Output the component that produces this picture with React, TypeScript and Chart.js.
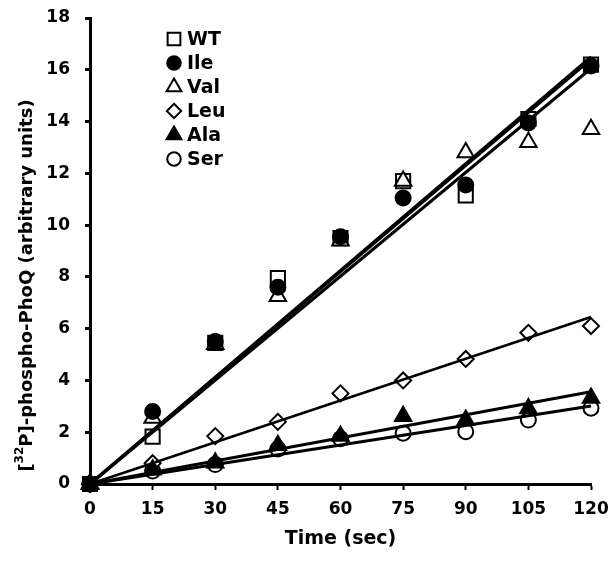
import React, { useEffect, useRef } from 'react';
import { Chart, registerables } from 'chart.js';

Chart.register(...registerables);

const timeSec = [0, 15, 30, 45, 60, 75, 90, 105, 120];
const wtValues = [0, 1.83, 5.45, 7.95, 9.5, 11.7, 11.15, 14.1, 16.2];
const ileValues = [0, 2.8, 5.5, 7.6, 9.55, 11.05, 11.55, 13.94, 16.15];
const valValues = [0, 2.55, 5.4, 7.25, 9.4, 11.7, 12.8, 13.2, 13.7];
const leuValues = [0, 0.8, 1.85, 2.4, 3.5, 4.0, 4.83, 5.84, 6.1];
const alaValues = [0, 0.55, 0.82, 1.5, 1.85, 2.62, 2.47, 2.92, 3.32];
const serValues = [0, 0.5, 0.75, 1.35, 1.75, 1.96, 2.02, 2.47, 2.93];

const fitTimes = [0, 120];
const wtFit = [0, 16.05];
const ileFit = [0, 16.4];
const valFit = [0, 16.5];
const leuFit = [0, 6.45];
const alaFit = [0, 3.56];
const serFit = [0, 3.01];

const seriesNames = ['WT', 'Ile', 'Val', 'Leu', 'Ala', 'Ser'];
const xTickStep = 15;
const yTickStep = 2;
const xTitle = 'Time (sec)';
const yTitleParts = ['[', '32', 'P]-phospho-PhoQ (arbitrary units)'];

const FONT = "'DejaVu Sans', Verdana, sans-serif";

type Marker = { style: string; radius: number; fill: string };
const markers: Marker[] = [
  { style: 'rect', radius: 10, fill: '#ffffff' },
  { style: 'circle', radius: 7.5, fill: '#000000' },
  { style: 'triangle', radius: 9.5, fill: '#ffffff' },
  { style: 'rectRot', radius: 8, fill: '#ffffff' },
  { style: 'triangle', radius: 9.5, fill: '#000000' },
  { style: 'circle', radius: 7.5, fill: '#ffffff' },
];
const markerOrder = [6, 1, 3, 4, 2, 5];
const fitWidths = [3, 3, 3, 2.5, 3, 3];

const toXY = (xs: number[], ys: number[]) => ys.map((y, i) => ({ x: xs[i], y }));

function drawMarker(ctx: CanvasRenderingContext2D, m: Marker, x: number, y: number) {
  ctx.save();
  ctx.fillStyle = m.fill;
  ctx.strokeStyle = '#000';
  ctx.lineWidth = 2;
  ctx.beginPath();
  const r = m.radius;
  if (m.style === 'rect') {
    const s = r * Math.SQRT1_2;
    ctx.rect(x - s, y - s, 2 * s, 2 * s);
  } else if (m.style === 'circle') {
    ctx.arc(x, y, r, 0, Math.PI * 2);
  } else if (m.style === 'triangle') {
    ctx.moveTo(x, y - r);
    ctx.lineTo(x + r * Math.sin(Math.PI / 3), y + r * 0.5);
    ctx.lineTo(x - r * Math.sin(Math.PI / 3), y + r * 0.5);
    ctx.closePath();
  } else {
    ctx.moveTo(x, y - r);
    ctx.lineTo(x + r, y);
    ctx.lineTo(x, y + r);
    ctx.lineTo(x - r, y);
    ctx.closePath();
  }
  ctx.fill();
  ctx.stroke();
  ctx.restore();
}

const insideLegend = {
  id: 'insideLegend',
  afterDraw(chart: any) {
    const { ctx, chartArea } = chart;
    const x0 = chartArea.left + 84;
    const y0 = chartArea.top + 21;
    ctx.save();
    ctx.font = `bold 19px ${FONT}`;
    ctx.fillStyle = '#000';
    ctx.textBaseline = 'middle';
    ctx.textAlign = 'left';
    seriesNames.forEach((name, i) => {
      const y = y0 + i * 24;
      drawMarker(ctx, { ...markers[i], radius: markers[i].radius * 0.9 }, x0, y);
      ctx.fillStyle = '#000';
      ctx.fillText(name, x0 + 13, y + 1);
    });
    ctx.restore();
  },
};

const yTitlePlugin = {
  id: 'yTitlePlugin',
  afterDraw(chart: any) {
    const { ctx, height } = chart;
    const big = `bold 18px ${FONT}`;
    const small = `bold 12px ${FONT}`;
    ctx.save();
    ctx.font = big;
    const w0 = ctx.measureText(yTitleParts[0]).width;
    const w2 = ctx.measureText(yTitleParts[2]).width;
    ctx.font = small;
    const w1 = ctx.measureText(yTitleParts[1]).width;
    const total = w0 + w1 + w2;
    ctx.translate(27, height / 2 + 4);
    ctx.rotate(-Math.PI / 2);
    ctx.fillStyle = '#000';
    ctx.textBaseline = 'middle';
    ctx.textAlign = 'left';
    let x = -total / 2;
    ctx.font = big;
    ctx.fillText(yTitleParts[0], x, 0);
    x += w0;
    ctx.font = small;
    ctx.fillText(yTitleParts[1], x, -7);
    x += w1;
    ctx.font = big;
    ctx.fillText(yTitleParts[2], x, 0);
    ctx.restore();
  },
};

export default function App() {
  const ref = useRef<HTMLCanvasElement | null>(null);
  useEffect(() => {
    document.body.style.margin = '0';
    const canvas = ref.current;
    if (!canvas) return;
    const allValues = [wtValues, ileValues, valValues, leuValues, alaValues, serValues];
    const allFits = [wtFit, ileFit, valFit, leuFit, alaFit, serFit];
    const markerSets = allValues.map((vals, i) => ({
      label: seriesNames[i],
      data: toXY(timeSec, vals),
      showLine: false,
      pointStyle: markers[i].style,
      pointRadius: markers[i].radius,
      pointHoverRadius: markers[i].radius,
      pointBackgroundColor: markers[i].fill,
      pointBorderColor: '#000',
      pointBorderWidth: 2,
      order: markerOrder[i],
      clip: false as any,
    }));
    const fitSets = allFits.map((vals, i) => ({
      label: seriesNames[i] + ' fit',
      data: toXY(fitTimes, vals),
      showLine: true,
      borderColor: '#000',
      borderWidth: fitWidths[i],
      pointRadius: 0,
      fill: false,
      order: 0,
      clip: false as any,
    }));
    const chart = new Chart(canvas, {
      type: 'scatter',
      data: { datasets: [...fitSets, ...markerSets] as any },
      options: {
        animation: false,
        responsive: false,
        devicePixelRatio: 1,
        layout: { padding: { top: 18, right: 20, left: 0, bottom: 0 } },
        plugins: { legend: { display: false }, tooltip: { enabled: false } },
        scales: {
          x: {
            type: 'linear',
            min: 0,
            max: 120,
            afterFit: (s: any) => { s.height = 79; s.paddingLeft = 0; s.paddingRight = 0; },
            ticks: { stepSize: xTickStep, color: '#000', padding: 9, font: { family: FONT, size: 17, weight: 'bold' } },
            grid: { drawOnChartArea: false, color: '#000', tickLength: 6, tickWidth: 2 },
            border: { display: true, color: '#000', width: 3 },
            title: { display: true, text: xTitle, color: '#000', font: { family: FONT, size: 19, weight: 'bold' }, padding: { top: 0, bottom: 13 } },
          },
          y: {
            type: 'linear',
            min: 0,
            max: 18,
            afterFit: (s: any) => { s.width = 90; s.paddingTop = 0; s.paddingBottom = 0; },
            ticks: { stepSize: yTickStep, color: '#000', padding: 15, font: { family: FONT, size: 17, weight: 'bold' } },
            grid: { drawOnChartArea: false, color: '#000', tickLength: 5, tickWidth: 3 },
            border: { display: true, color: '#000', width: 3 },
            title: { display: false },
          },
        },
      },
      plugins: [insideLegend, yTitlePlugin],
    });
    return () => chart.destroy();
  }, []);
  return (
    <div style={{ width: 611, height: 563 }}>
      <canvas ref={ref} width={611} height={563} />
    </div>
  );
}
